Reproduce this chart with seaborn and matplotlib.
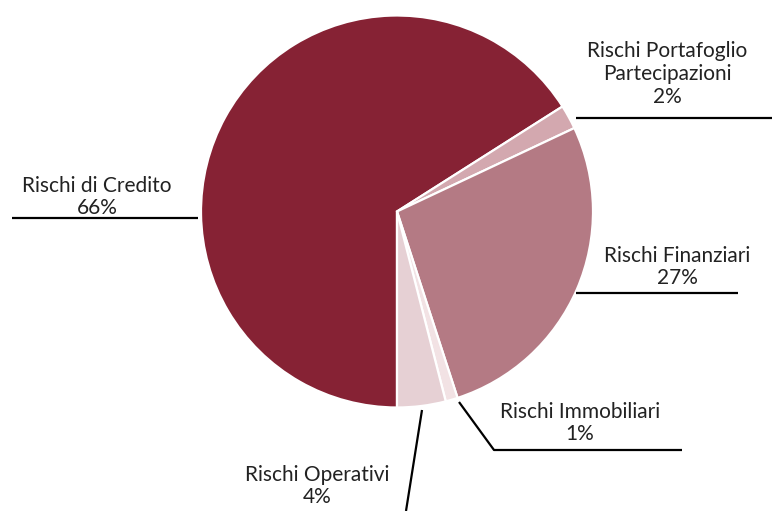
import matplotlib
matplotlib.use("Agg")
import matplotlib.pyplot as plt
import seaborn as sns

# Composizione dei rischi
categories = ["Rischi di Credito", "Rischi Portafoglio\nPartecipazioni", "Rischi Finanziari",
              "Rischi Immobiliari", "Rischi Operativi"]
shares = [66, 2, 27, 1, 4]
colors = ["#862234", "#d3a8af", "#b47a84", "#f2e2e4", "#e6d0d4"]

sns.set_theme(style="white")
plt.rcParams["font.family"] = ["Lato", "DejaVu Sans"]

W, H = 774, 511
fig = plt.figure(figsize=(W / 100, H / 100), dpi=100)
ax = fig.add_axes([0, 0, 1, 1])

cx, cy, r = 397, H - 211.5, 196
ax.pie(shares, colors=colors, startangle=-90, counterclock=False,
       center=(cx, cy), radius=r, frame=True,
       wedgeprops=dict(edgecolor="white", linewidth=1.6))
ax.set_xlim(0, W)
ax.set_ylim(0, H)
ax.set_aspect("equal")
ax.axis("off")

def Y(y):
    return H - y

# leader lines (x list, y list in pixel space) and label anchors
leaders = [
    ([12, 198], [218, 218]),
    ([576, 772], [118, 118]),
    ([576, 738], [293, 293]),
    ([459, 494, 682], [402, 450, 450]),
    ([422, 406], [410, 511]),
]
label_pos = [(97, 197), (667, 74), (677, 267), (580, 423), (317, 486)]

for name, share, (xs, ys), (lx, ly) in zip(categories, shares, leaders, label_pos):
    ax.plot(xs, [Y(v) for v in ys], color="black", lw=1.6, solid_capstyle="butt")
    ax.text(lx, Y(ly), f"{name}\n{share}%", ha="center", va="center",
            fontsize=15, color="#222222", linespacing=1.18)

fig.savefig("out.png", dpi=100)
